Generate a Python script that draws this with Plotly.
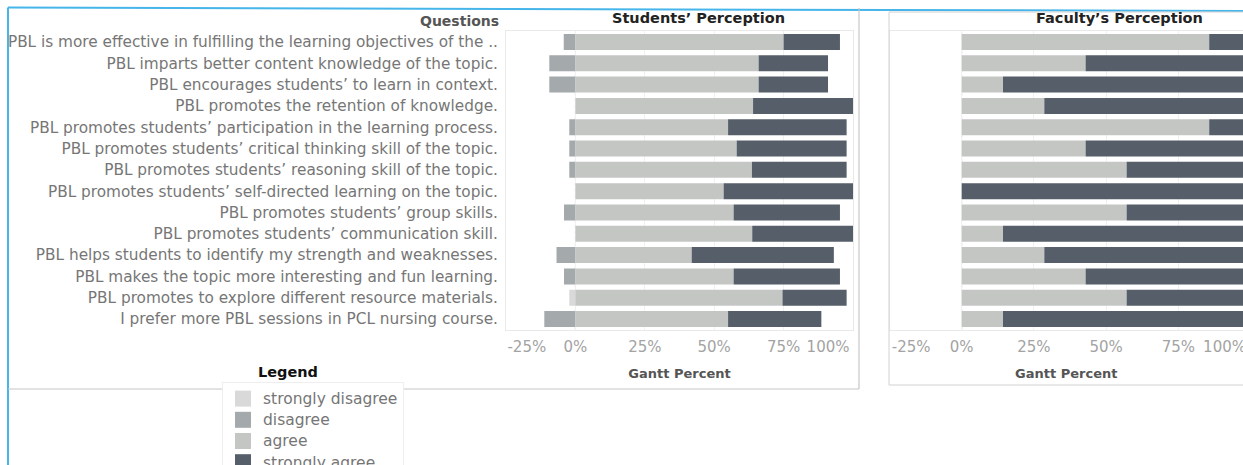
import plotly.graph_objects as go

W, H = 1243, 465

questions = [
    "PBL is more effective in fulfilling the learning objectives of the ..",
    "PBL imparts better content knowledge of the topic.",
    "PBL encourages students’ to learn in context.",
    "PBL promotes the retention of knowledge.",
    "PBL promotes students’ participation in the learning process.",
    "PBL promotes students’ critical thinking skill of the topic.",
    "PBL promotes students’ reasoning skill of the topic.",
    "PBL promotes students’ self-directed learning on the topic.",
    "PBL promotes students’ group skills.",
    "PBL promotes students’ communication skill.",
    "PBL helps students to identify my strength and weaknesses.",
    "PBL makes the topic more interesting and fun learning.",
    "PBL promotes to explore different resource materials.",
    "I prefer more PBL sessions in PCL nursing course.",
]

levels = ["strongly disagree", "disagree", "agree", "strongly agree"]
level_colors = ["#d9d9d9", "#a4a9ac", "#c4c6c4", "#555e69"]

# Students' perception (percent of respondents)
stu_strongly_disagree = [0, 0, 0, 0, 0, 0, 0, 0, 0, 0, 0, 0, 2.2, 0]
stu_disagree = [4.2, 9.4, 9.4, 0, 2.2, 2.2, 2.2, 0, 4.1, 0, 6.8, 4.1, 0, 11.2]
stu_agree = [75.0, 66.0, 66.0, 64.0, 55.0, 58.1, 63.6, 53.4, 57.0, 63.7, 41.9, 57.0, 74.6, 55.0]
stu_strongly_agree = [20.3, 25.0, 25.0, 36.0, 42.7, 39.6, 34.1, 46.6, 38.3, 36.3, 51.2, 38.3, 23.1, 33.6]

# Faculty's perception (percent of respondents)
fac_agree = [85.7, 42.9, 14.3, 28.6, 85.7, 42.9, 57.1, 0, 57.1, 14.3, 28.6, 42.9, 57.1, 14.3]
fac_strongly_agree = [14.3, 57.1, 85.7, 71.4, 14.3, 57.1, 42.9, 100, 42.9, 85.7, 71.4, 57.1, 42.9, 85.7]

tick_vals = [-25, 0, 25, 50, 75, 100]
tick_text = ["-25%", "0%", "25%", "50%", "75%", "100%"]

FONT = "DejaVu Sans"
LABEL_COLOR = "#767676"


def px(x):
    return x / W


def py(y):
    return 1 - y / H


# edge tick labels are kept inside the pane (as in the original dashboard)
label_shift = {-25: 7.5, 100: -9.0}
label_vals = [v + label_shift.get(v, 0) for v in tick_vals]

fig = go.Figure()

# diverging stacked bars: negatives stack outward from zero in trace order
stu_series = [
    ("disagree", [-v for v in stu_disagree]),
    ("strongly disagree", [-v for v in stu_strongly_disagree]),
    ("agree", stu_agree),
    ("strongly agree", stu_strongly_agree),
]
for name, vals in stu_series:
    fig.add_trace(go.Bar(
        orientation="h", y=questions, x=vals, name=name,
        marker=dict(color=level_colors[levels.index(name)], line=dict(width=0)),
        width=0.75, xaxis="x", yaxis="y", showlegend=False,
    ))

fac_series = [("agree", fac_agree), ("strongly agree", fac_strongly_agree)]
for name, vals in fac_series:
    fig.add_trace(go.Bar(
        orientation="h", y=questions, x=vals, name=name,
        marker=dict(color=level_colors[levels.index(name)], line=dict(width=0)),
        width=0.75, xaxis="x2", yaxis="y2", showlegend=False,
    ))

# legend entries
for i, (name, col) in enumerate(zip(levels, level_colors)):
    fig.add_trace(go.Scatter(
        x=[None], y=[None], mode="markers",
        name=f"<span style='font-size:15.5px'>{name}</span>",
        marker=dict(symbol="square", size=16, color=col),
        xaxis="x", yaxis="y", legendrank=i + 1, hoverinfo="skip",
    ))

# carriers for the label axes
fig.add_trace(go.Scatter(x=[None], y=[None], xaxis="x3", yaxis="y", showlegend=False, hoverinfo="skip"))
fig.add_trace(go.Scatter(x=[None], y=[None], xaxis="x4", yaxis="y2", showlegend=False, hoverinfo="skip"))

ydom = [py(329.7), py(31.3)]
stu_dom = [px(506), px(853)]
fac_dom = [px(889.5), 1.0]
stu_range = [-25, 100]
fac_range = [-25, 97.4]

grid_axis = dict(
    tickvals=tick_vals, showticklabels=False, showgrid=True, gridcolor="#f1f1f1",
    zeroline=False, showline=True, linecolor="#e9e9e9", mirror=True, ticks="",
    fixedrange=True,
)
label_axis = dict(
    tickvals=label_vals, ticktext=tick_text, showgrid=False, zeroline=False,
    showline=False, ticks="", tickfont=dict(family=FONT, size=15, color="#a3a3a3"),
    ticklabelstandoff=6, ticklabeloverflow="allow",
    title=dict(text="<b>Gantt Percent</b>", font=dict(family=FONT, size=13, color="#555555"), standoff=14),
)

fig.update_layout(
    width=W, height=H, autosize=False,
    margin=dict(l=0, r=0, t=0, b=0, autoexpand=False),
    paper_bgcolor="white", plot_bgcolor="white",
    barmode="relative",
    font=dict(family=FONT, size=14, color=LABEL_COLOR),
    xaxis=dict(domain=stu_dom, range=stu_range, anchor="y", **grid_axis),
    xaxis2=dict(domain=fac_dom, range=fac_range, anchor="y2", **grid_axis),
    xaxis3=dict(overlaying="x", anchor="y", range=stu_range, side="bottom", **label_axis),
    xaxis4=dict(overlaying="x2", anchor="y2", range=fac_range, side="bottom", **label_axis),
    yaxis=dict(
        domain=ydom, anchor="x", type="category", categoryorder="array",
        categoryarray=questions, autorange="reversed", showgrid=False, zeroline=False,
        showline=True, linecolor="#e9e9e9", mirror=True, ticks="",
        tickfont=dict(family=FONT, size=15.3, color=LABEL_COLOR), ticklabelstandoff=4,
    ),
    yaxis2=dict(
        domain=ydom, anchor="x2", type="category", categoryorder="array",
        categoryarray=questions, autorange="reversed", showgrid=False, zeroline=False,
        showline=True, linecolor="#e9e9e9", mirror=True, ticks="", showticklabels=False,
    ),
    legend=dict(
        x=px(222), y=py(382), xanchor="left", yanchor="top",
        bgcolor="white", bordercolor="#eeeeee", borderwidth=1,
        font=dict(family=FONT, size=14, color=LABEL_COLOR),
        itemsizing="trace", itemwidth=30, tracegroupgap=0,
    ),
    showlegend=True,
)

annotations = [
    dict(text="<b>Questions</b>", x=px(501), y=py(21), xanchor="right",
         font=dict(family=FONT, size=14, color="#555555")),
    dict(text="<b>Students’ Perception</b>", x=px(698), y=py(18), xanchor="center",
         font=dict(family=FONT, size=14.5, color="#222222")),
    dict(text="<b>Faculty’s Perception</b>", x=px(1119), y=py(18), xanchor="center",
         font=dict(family=FONT, size=14.5, color="#222222")),
    dict(text="<b>Legend</b>", x=px(256), y=py(372), xanchor="left",
         font=dict(family=FONT, size=14.5, color="#111111")),
]
for a in annotations:
    a.update(xref="paper", yref="paper", yanchor="middle", showarrow=False)
fig.update_layout(annotations=annotations)

shapes = [
    # dashboard blue frame
    dict(type="line", x0=px(8), x1=1.0, y0=py(7.5), y1=py(11), line=dict(color="#45b5ea", width=2)),
    dict(type="line", x0=px(8), x1=px(8), y0=py(7.5), y1=0, line=dict(color="#45b5ea", width=2)),
    # students panel frame
    dict(type="line", x0=px(859), x1=px(859), y0=py(8), y1=py(389), line=dict(color="#c6c6c6", width=1.2)),
    dict(type="line", x0=px(8), x1=px(859), y0=py(389), y1=py(389), line=dict(color="#c6c6c6", width=1.2)),
    # faculty panel frame
    dict(type="line", x0=px(889), x1=px(889), y0=py(12), y1=py(385), line=dict(color="#d2d2d2", width=1)),
    dict(type="line", x0=px(889), x1=1.0, y0=py(12), y1=py(12), line=dict(color="#d2d2d2", width=1)),
    dict(type="line", x0=px(889), x1=1.0, y0=py(385), y1=py(385), line=dict(color="#d2d2d2", width=1)),
]
for s in shapes:
    s.update(xref="paper", yref="paper", layer="above")
# dotted zero lines
shapes.append(dict(type="line", xref="x", yref="y domain", x0=0, x1=0, y0=0, y1=1,
                   line=dict(color="#bdbdbd", width=1, dash="dot"), layer="below"))
shapes.append(dict(type="line", xref="x2", yref="y2 domain", x0=0, x1=0, y0=0, y1=1,
                   line=dict(color="#bdbdbd", width=1, dash="dot"), layer="below"))
fig.update_layout(shapes=shapes)

fig.write_html("out.html")
